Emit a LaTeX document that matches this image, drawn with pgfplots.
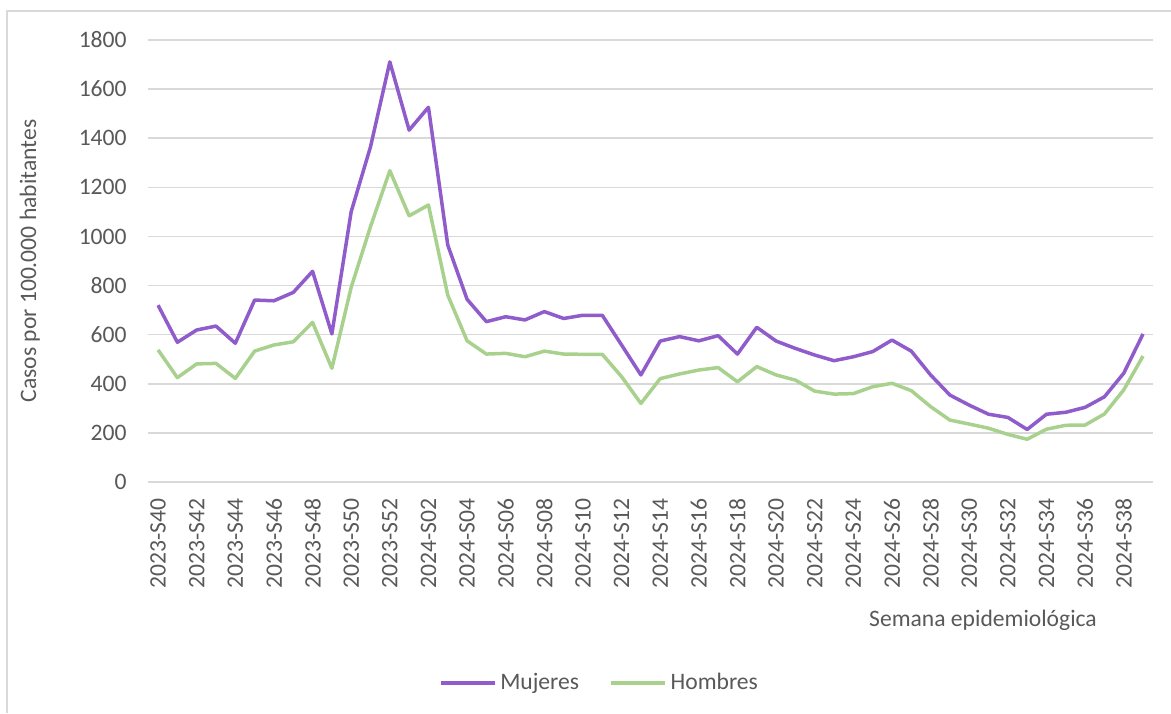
\documentclass[border=0pt]{standalone}
\usepackage{fontspec}
\setmainfont{Carlito}
\usepackage{pgfplots}
\pgfplotsset{compat=1.18}
\definecolor{mujer}{HTML}{905CCB}
\definecolor{hombre}{HTML}{A9D18E}
\definecolor{gridc}{HTML}{D9D9D9}
\definecolor{txt}{HTML}{595959}
\newcommand{\cf}{\fontsize{11.8pt}{14pt}\selectfont}
\begin{document}
\begin{tikzpicture}
\path[use as bounding box] (0,0) rectangle (585.5pt,356.5pt);
\draw[gridc, line width=0.75pt] (3.5pt,0pt) -- (3.5pt,351pt) -- (585.5pt,351pt);
\begin{axis}[
  at={(74.2pt,115.5pt)}, anchor=south west,
  scale only axis, width=502.15pt, height=221pt,
  xmin=-0.5, xmax=51.5, ymin=0, ymax=1800,
  ytick={0,200,...,1800},
  xtick={0,2,...,50},
  xticklabels={2023-S40,2023-S42,2023-S44,2023-S46,2023-S48,2023-S50,2023-S52,2024-S02,2024-S04,2024-S06,2024-S08,2024-S10,2024-S12,2024-S14,2024-S16,2024-S18,2024-S20,2024-S22,2024-S24,2024-S26,2024-S28,2024-S30,2024-S32,2024-S34,2024-S36,2024-S38},
  axis line style={draw=none},
  major tick style={draw=none},
  ymajorgrids, grid style={gridc, line width=0.75pt},
  /pgf/number format/assume math mode=true,
  /pgf/number format/1000 sep={},
  yticklabel style={font=\cf, text=txt, inner sep=0pt, anchor=east},
  yticklabel shift=10.7pt,
  xticklabel style={font=\cf, text=txt, inner sep=0pt, rotate=90, anchor=east},
  xticklabel shift=8pt,
  ylabel={Casos por 100.000 habitantes},
  ylabel style={font=\cf, text=txt, at={(axis description cs:-0.118,0.5)}, anchor=center, rotate=0},
  legend columns=2,
  legend style={draw=none, font=\cf, text=txt, at={(axis description cs:0.45,-0.455)}, anchor=center,
    /tikz/every even column/.append style={column sep=13pt}, inner sep=0pt},
  legend image code/.code={\draw[#1] (0pt,0pt) -- (27pt,0pt);},
  legend cell align=left,
]
\addplot[mujer, line width=1.75pt, line join=round] coordinates {
(0,720)(1,569)(2,619)(3,635)(4,565)(5,741)(6,738)(7,772)(8,858)(9,603)
(10,1101)(11,1365)(12,1711)(13,1433)(14,1526)(15,965)(16,744)(17,653)(18,673)(19,660)
(20,694)(21,666)(22,679)(23,679)(24,558)(25,436)(26,574)(27,592)(28,575)(29,596)
(30,521)(31,630)(32,574)(33,544)(34,517)(35,494)(36,510)(37,531)(38,578)(39,533)
(40,436)(41,354)(42,313)(43,276)(44,263)(45,214)(46,276)(47,284)(48,304)(49,347)
(50,443)(51,603)};
\addlegendentry{Mujeres}
\addplot[hombre, line width=1.75pt, line join=round] coordinates {
(0,538)(1,425)(2,481)(3,483)(4,422)(5,533)(6,558)(7,571)(8,650)(9,463)
(10,793)(11,1040)(12,1268)(13,1084)(14,1128)(15,761)(16,575)(17,521)(18,524)(19,510)
(20,533)(21,521)(22,520)(23,520)(24,429)(25,320)(26,421)(27,440)(28,456)(29,466)
(30,408)(31,470)(32,436)(33,415)(34,370)(35,358)(36,360)(37,388)(38,402)(39,372)
(40,307)(41,252)(42,236)(43,219)(44,194)(45,174)(46,215)(47,231)(48,232)(49,277)
(50,375)(51,513)};
\addlegendentry{Hombres}
\end{axis}
\node[font=\cf, text=txt, anchor=center] at (491.5pt,46.5pt) {Semana epidemiológica};
\end{tikzpicture}
\end{document}
